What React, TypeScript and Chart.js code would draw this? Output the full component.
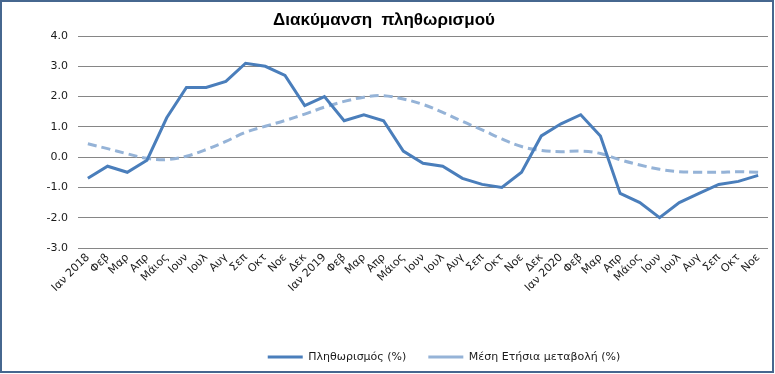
import { useEffect, useRef } from "react";
import { Chart, registerables } from "chart.js";

Chart.register(...registerables);

const categories = [
  "Ιαν 2018", "Φεβ", "Μαρ", "Απρ", "Μάιος", "Ιουν", "Ιουλ", "Αυγ", "Σεπ", "Οκτ", "Νοε", "Δεκ",
  "Ιαν 2019", "Φεβ", "Μαρ", "Απρ", "Μάιος", "Ιουν", "Ιουλ", "Αυγ", "Σεπ", "Οκτ", "Νοε", "Δεκ",
  "Ιαν 2020", "Φεβ", "Μαρ", "Απρ", "Μάιος", "Ιουν", "Ιουλ", "Αυγ", "Σεπ", "Οκτ", "Νοε",
];

const inflation = [
  -0.7, -0.3, -0.5, -0.1, 1.3, 2.3, 2.3, 2.5, 3.1, 3.0, 2.7, 1.7,
  2.0, 1.2, 1.4, 1.2, 0.2, -0.2, -0.3, -0.7, -0.9, -1.0, -0.5, 0.7,
  1.1, 1.4, 0.7, -1.2, -1.5, -2.0, -1.5, -1.2, -0.9, -0.8, -0.6,
];

const avgAnnual = [
  0.44, 0.28, 0.11, -0.04, -0.08, 0.03, 0.25, 0.52, 0.82, 1.02, 1.21, 1.42,
  1.65, 1.84, 1.98, 2.03, 1.92, 1.74, 1.48, 1.18, 0.9, 0.6, 0.35, 0.22,
  0.18, 0.2, 0.12, -0.09, -0.26, -0.4, -0.48, -0.5, -0.5, -0.48, -0.5,
];

const seriesNames = ["Πληθωρισμός (%)", "Μέση Ετήσια μεταβολή (%)"];
const titleText = "Διακύμανση  πληθωρισμού";
const yMin = -3;
const yMax = 4;

const frame = {
  id: "frame",
  beforeDraw(chart: any) {
    const { ctx, width, height } = chart;
    ctx.save();
    ctx.fillStyle = "#ffffff";
    ctx.fillRect(0, 0, width, height);
    ctx.restore();
  },
  afterDraw(chart: any) {
    const { ctx, width, height } = chart;
    ctx.save();
    ctx.strokeStyle = "#46678f";
    ctx.lineWidth = 2;
    ctx.strokeRect(1, 1, width - 3, height - 3);
    ctx.restore();
  },
};

const legendShift = {
  id: "legendShift",
  afterLayout(chart: any) {
    const l = chart.legend;
    if (l) {
      l.left += 60;
      l.right += 60;
    }
  },
};

export default function App() {
  const ref = useRef<HTMLCanvasElement | null>(null);

  useEffect(() => {
    if (!ref.current) return;
    const font = "'DejaVu Sans', Verdana, sans-serif";
    const chart = new Chart(ref.current, {
      type: "line",
      data: {
        labels: categories,
        datasets: [
          {
            label: seriesNames[0],
            data: inflation,
            borderColor: "#4a7ebb",
            backgroundColor: "#4a7ebb",
            borderWidth: 3,
            pointRadius: 0,
            pointStyle: "line",
            tension: 0,
            fill: false,
          },
          {
            label: seriesNames[1],
            data: avgAnnual,
            borderColor: "#95b3d7",
            backgroundColor: "#95b3d7",
            borderWidth: 3,
            borderDash: [9, 5],
            pointRadius: 0,
            pointStyle: "line",
            tension: 0.35,
            fill: false,
          },
        ],
      },
      options: {
        responsive: false,
        animation: false,
        layout: { padding: { left: 0, right: 7, top: 0, bottom: 1.5 } },
        plugins: {
          title: {
            display: true,
            text: titleText,
            color: "#000000",
            font: { family: "'Liberation Sans', Arial, sans-serif", size: 17, weight: "bold" },
            padding: { top: 10, bottom: 5.6 },
          },
          legend: {
            display: true,
            position: "bottom",
            labels: {
              usePointStyle: true,
              pointStyleWidth: 35,
              color: "#1a1a1a",
              font: { family: font, size: 11 },
              padding: 22,
            },
          },
          tooltip: { enabled: false },
        },
        scales: {
          x: {
            offset: true,
            grid: { display: false, drawTicks: false },
            border: { display: false },
            ticks: {
              autoSkip: false,
              maxRotation: 45,
              minRotation: 45,
              padding: 3,
              color: "#1a1a1a",
              font: { family: font, size: 11 },
            },
            afterFit(scale: any) {
              scale.height = 81.5;
            },
          },
          y: {
            min: yMin,
            max: yMax,
            grid: { color: "#868686", lineWidth: 1, drawTicks: false },
            border: { display: false },
            ticks: {
              stepSize: 1,
              padding: 10,
              color: "#1a1a1a",
              font: { family: font, size: 11 },
              callback: (v: any) => Number(v).toFixed(1),
            },
            afterFit(scale: any) {
              scale.width = 78;
            },
          },
        },
      },
      plugins: [frame, legendShift],
    });
    return () => chart.destroy();
  }, []);

  return (
    <div style={{ position: "fixed", left: 0, top: 0, width: 775, height: 374 }}>
      <canvas ref={ref} width={775} height={374} style={{ display: "block" }} />
    </div>
  );
}
